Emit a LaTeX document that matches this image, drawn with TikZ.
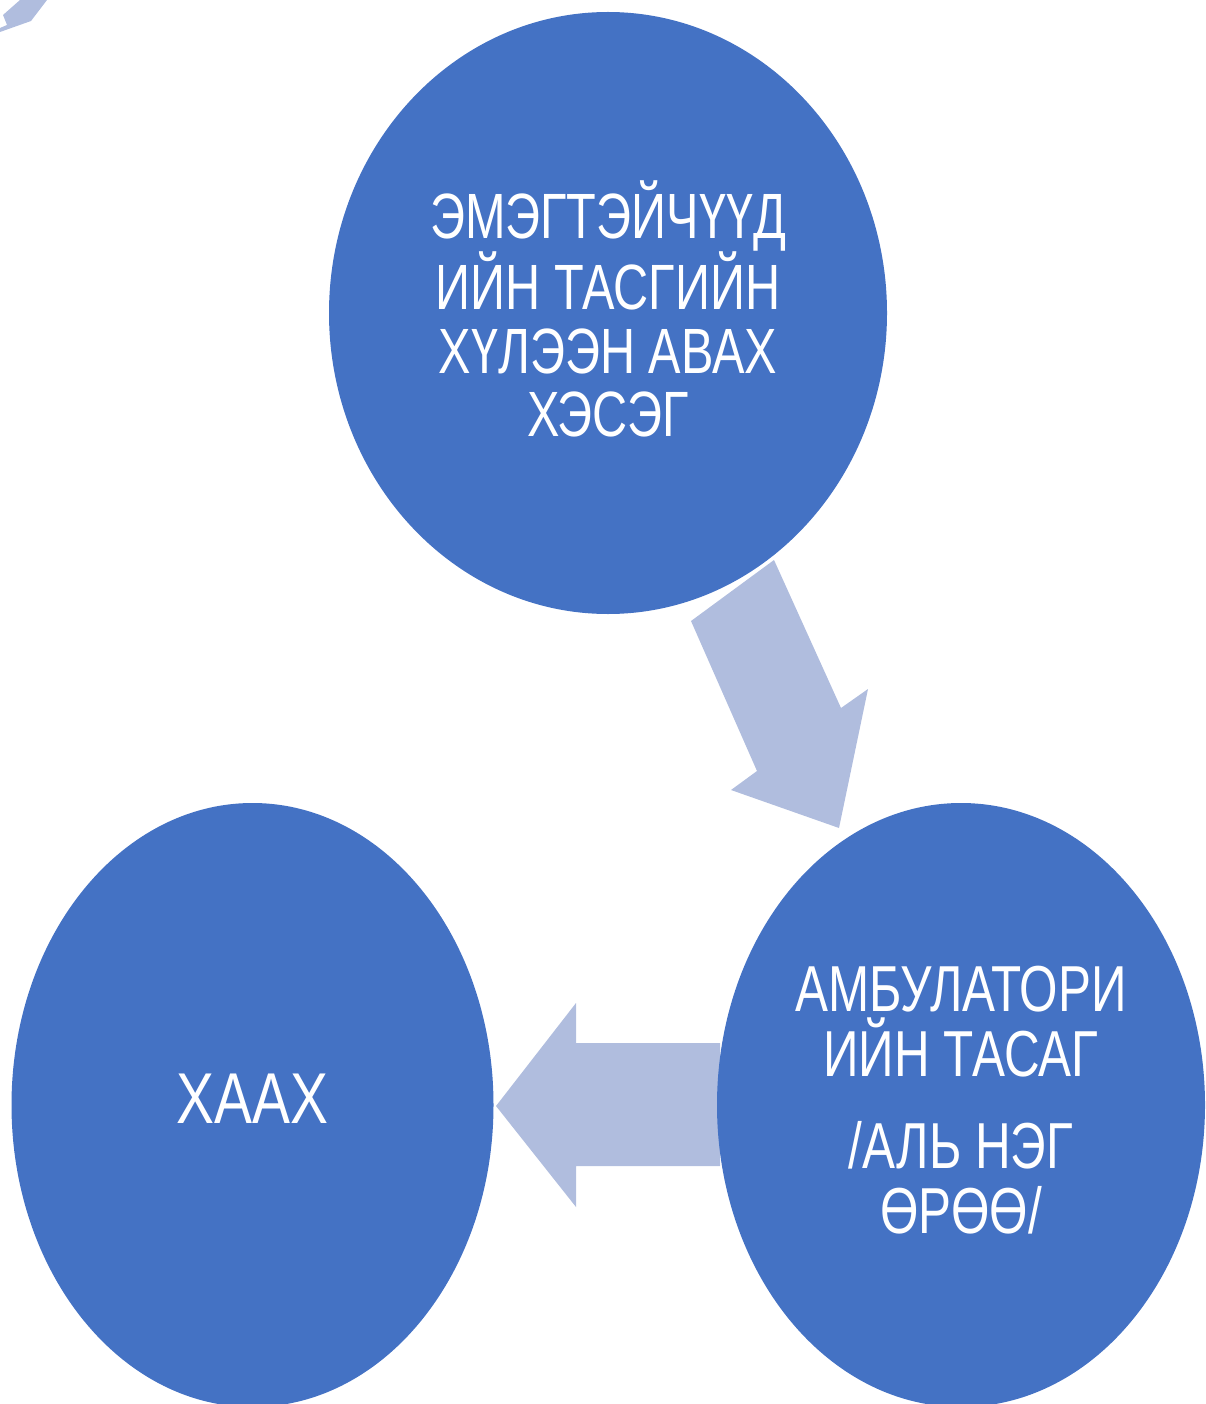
\documentclass[tikz,border=0pt]{standalone}
\usepackage{fontspec}
\setmainfont{Liberation Sans}
\newfontfamily\condA[FakeStretch=0.76]{Liberation Sans}
\newfontfamily\condB[FakeStretch=0.79]{Liberation Sans}
\usetikzlibrary{shapes.geometric}
\definecolor{ellblue}{RGB}{68,114,196}
\definecolor{arrblue}{RGB}{176,189,222}
\tikzset{
  bubble/.style={ellipse, fill=ellblue, draw=none, inner sep=0pt, outer sep=0pt},
  bubbletext/.style={text=white, align=center, inner sep=0pt},
  blockarrow/.style={fill=arrblue, draw=none}
}
\begin{document}
\begin{tikzpicture}[x=1pt, y=-1pt]
\useasboundingbox (0,0) rectangle (1206,1404);
\clip (0,0) rectangle (1206,1404);
% block arrows (behind the bubbles)
\fill[blockarrow] (691,621) -- (774,560) -- (841,708) -- (868,689) -- (839,828) -- (731,790) -- (757,771) -- cycle;
\fill[blockarrow] (496,1106) -- (576,1003) -- (576,1043) -- (720,1043) -- (720,1166) -- (576,1166) -- (576,1207) -- cycle;
\fill[blockarrow] (20,0) -- (47,0) -- (31,21) -- (0,32) -- (0,28) -- (7,25) -- (3,15) -- cycle;
% bubbles
\node[bubble, minimum width=558pt, minimum height=602pt] (top) at (608,313) {};
\node[bubble, minimum width=488pt, minimum height=604pt] (amb) at (961,1105) {};
\node[bubble, minimum width=482pt, minimum height=604pt] (close) at (252.5,1105) {};
% texts
\node[bubbletext, font=\condA\fontsize{64}{63.5}\selectfont] (toptext)
  at ([yshift=4pt]top.center) {ЭМЭГТЭЙЧҮҮД\\ИЙН ТАСГИЙН\\ХҮЛЭЭН АВАХ\\ХЭСЭГ};
\node[bubbletext, font=\condA\fontsize{65}{65.5}\selectfont] (ambtext)
  at ([yshift=5pt]amb.center) {АМБУЛАТОРИ\\ИЙН ТАСАГ\\[26pt]/АЛЬ НЭГ\\ӨРӨӨ/};
\node[bubbletext, font=\condB\fontsize{72}{72}\selectfont] (closetext)
  at ([yshift=6pt]close.center) {ХААХ};
\end{tikzpicture}
\end{document}
